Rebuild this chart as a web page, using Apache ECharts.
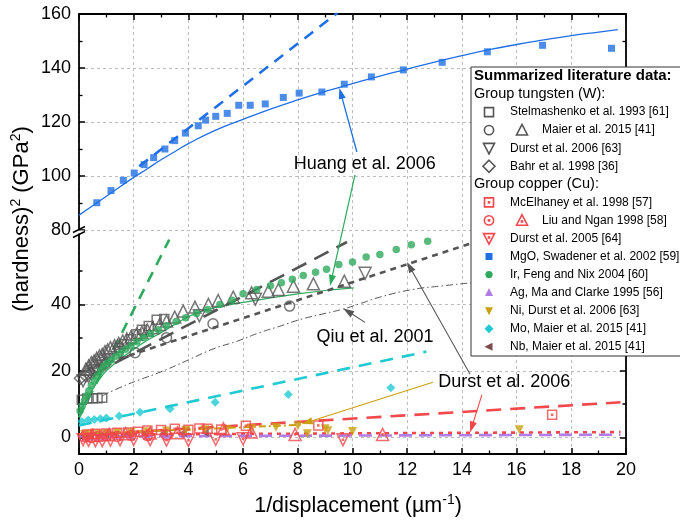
<!DOCTYPE html>
<html>
<head>
<meta charset="utf-8">
<script src="https://cdn.jsdelivr.net/npm/echarts@6/dist/echarts.min.js"></script>
<style>
html,body{margin:0;padding:0;background:#fff}
#chart{width:680px;height:523px}
</style>
</head>
<body>
<div id="chart"></div>
<script>
// ---------- axis ticks ----------
const xTicks = [0, 2, 4, 6, 8, 10, 12, 14, 16, 18, 20];
const yTicksUpper = [80, 100, 120, 140, 160];
const yTicksLower = [0, 20, 40];
const yMinorLower = [10, 30, 50];

// ---------- upper segment: MgO ----------
const mgoSwadener = [[0.65,90.1],[1.17,94.6],[1.62,98.4],[2.02,101.1],[2.38,104.2],[2.73,106.8],[3.14,110],[3.5,113.1],[3.89,115.9],[4.36,118.6],[4.63,120.7],[5.0,122.1],[5.42,123.2],[5.84,126.2],[6.26,126.2],[6.81,126.7],[7.47,129.1],[8.05,130.7],[8.88,131.1],[9.7,134],[10.69,136.7],[11.86,139.3],[13.28,142.1],[14.93,146],[16.95,148.4],[19.47,147.3]];
const mgoHuangFit = [[0,85.5],[0.5,89],[1,92.5],[1.5,96],[2,99.5],[2.5,102.7],[3,106],[3.5,109],[4,112],[5,117],[6,121],[7,124.8],[8,128.2],[9,131.3],[10,134.2],[11,137],[12,139.6],[13,142.2],[14,144.6],[15,146.8],[16,148.7],[17,150.4],[18,152],[19,153.3],[19.7,154.2]];
const mgoNixGao = [[2.2,103.6],[9.45,160.4]];

// ---------- lower segment: tungsten group ----------
const wStelmashenko = [[0.1,11.3],[0.3,11.7],[0.5,11.8],[0.68,11.8],[0.85,11.9],[1.45,27],[1.65,28],[1.9,29.5],[2.1,31],[2.3,32.4],[2.55,33.5],[2.84,35.4],[3.12,35.6]];
const wMaierCircle = [[2.05,25.5],[3.2,30],[4.9,34.2],[7.7,39.5]];
const wMaierTriangle = [[0.25,20.5],[0.35,21.5],[0.45,22.5],[0.55,23],[0.65,23.8],[0.75,24.5],[0.85,25],[0.95,25.8],[1.05,26.3],[1.15,27],[1.3,27.6],[1.45,28.3],[1.6,29],[1.75,29.6],[1.9,30.2],[2.1,31],[2.3,31.6],[2.5,32.3],[2.7,33],[2.95,34],[3.2,35],[3.5,36.2],[3.81,38],[4.24,39.2],[4.73,40],[5.09,41.2],[5.64,42.2],[6.31,43.5],[6.92,44],[7.29,44.5],[7.84,45.5],[8.57,46.2],[9.7,47]];
const wDurst = [[0.15,17],[0.35,18.3],[0.55,19.8],[0.8,21.5],[1.1,23.3],[1.5,25.5],[4.4,36.6],[6.45,41.6],[10.46,49.4]];
const wBahr = [[0.05,17.8],[0.25,18.5],[0.45,19.3],[0.7,20.5],[0.95,22]];
const wFitLong = [[0.5,18.85],[9.8,58.8]];
const wFitShort = [[0.3,20.5],[14.3,58.3]];
const wQiuFit = [[0.85,12.5],[1.5,15],[2.2,17.3],[2.96,19.6],[4,23.3],[4.9,26.6],[5.8,29],[6.6,31.5],[7.4,33.6],[8.1,35.5],[9,37.3],[9.6,38.5],[10.3,40.3],[11,42.2],[12.2,44.5],[13.3,45.6],[14.3,46.5],[16,48],[18,49.5],[20,51]];

// ---------- lower segment: copper group ----------
const cuMcElhaney = [[0.3,0.9],[0.6,1.1],[1.0,1.2],[1.4,1.4],[1.8,1.5],[2.15,1.7],[2.5,2.1],[3.0,2.2],[3.5,2.6],[4.0,2.3],[4.4,2.7],[4.7,2.6],[5.2,2.4],[6.1,3.5],[8.75,3.6],[17.3,6.8]];
const cuLiuCircle = [[0.2,0.2],[0.45,0.0],[0.7,0.3],[1.0,0.5],[1.4,0.3],[1.9,0.6],[2.5,0.5],[3.2,0.7]];
const cuLiuTriangle = [[0.5,0.6],[1.1,0.9],[1.7,1.1],[2.6,1.3],[3.6,1.4],[5.28,2.6],[6.3,1.6],[7.9,0.9],[11.1,0.9]];
const cuDurst = [[0.15,-0.7],[0.35,-0.9],[0.6,-1.0],[0.85,-1.0],[1.15,-0.8],[1.5,-0.7],[2.0,-0.6],[2.6,-0.7],[3.2,-0.8],[4.0,-0.9],[5.0,-0.6],[6.0,-0.4],[9.65,-0.7]];
const cuFitLong = [[0,0.65],[19.8,10.55]];
const cuFitShort = [[0,0.8],[19.8,1.6]];

// ---------- lower segment: other metals ----------
const irFengNix = [[0.04,8],[0.12,9.5],[0.2,11],[0.28,12.5],[0.36,14],[0.45,15.5],[0.55,17],[0.66,18.5],[0.78,20],[0.9,21.3],[1.03,22.3],[1.18,23.3],[1.35,24.4],[1.52,25.4],[1.7,26.5],[1.9,27.6],[2.12,28.8],[2.36,30],[2.62,31.2],[2.9,32.4],[3.2,33.6],[3.55,34.9],[3.9,36],[4.3,37.3],[4.7,38.5],[5.15,40],[5.6,41.3],[6.0,43.2],[6.5,44.5],[7.0,45.6],[7.4,46.5],[7.8,47.6],[8.2,48.7],[8.65,49.7],[9.05,50.6],[9.5,52],[10.0,52.8],[10.5,54.3],[11.0,55],[11.6,56.5],[12.15,58],[12.75,59]];
const irFitSolid = [[0,7],[0.25,11],[0.5,14.5],[0.75,17.5],[1,20],[1.5,23.5],[2,26.5],[2.5,29.2],[3,31.5],[3.5,34],[4,36.3],[4.5,38],[5,39.1],[6,40.6],[7,42],[8,43.2],[9,44.2],[10.05,45]];
const irFitDashed = [[0,6],[3.3,59.5]];
const agMaClarke = [[0.25,0.2],[0.45,0.3],[0.7,0.3],[1.0,0.4],[1.4,0.4],[1.9,0.5],[2.5,0.5],[3.2,0.6]];
const agFit = [[0,0.3],[19.8,0.8]];
const niDurst = [[0.2,0.9],[0.4,1.0],[0.7,1.1],[1.0,1.2],[1.4,1.4],[1.9,1.5],[2.5,1.7],[3.2,1.9],[3.9,2.1],[4.6,2.3],[5.4,2.4],[6.3,2.7],[7.2,3.0],[8.0,3.5],[8.35,1.1],[9.0,2.6],[9.1,2.0],[10.0,1.8],[16.1,2.3]];
const niFit = [[0,1.0],[8.2,3.8]];
const moMaier = [[0.1,4.8],[0.34,5.2],[0.56,5.4],[0.78,5.6],[1.0,5.8],[1.47,6.4],[2.23,7.6],[3.33,8.6],[4.98,10.6],[7.65,12.9],[11.4,14.9]];
const moFit = [[0,3.6],[12.7,25.8]];
const nbMaier = [[0.2,0.6],[0.4,0.7],[0.65,0.8],[0.95,0.9],[1.3,1.0],[1.8,1.1],[2.4,1.2],[3.1,1.3],[3.8,1.4],[4.6,1.4]];

// ---------- styling ----------
const FONT = '"Liberation Sans", Arial, Helvetica, sans-serif';
const GRAY = '#555555', RED = '#f2474b', BLUE = '#1f6fe5', GREEN = '#2eaa5c',
      CYAN = '#1fcad3', PURPLE = '#b27ce6', GOLD = '#c9a010', BROWN = '#7d4b4b';
const GRID_LINE = { show: true, lineStyle: { color: '#bdbdbd', type: [3, 3], width: 1 } };
const AXIS_LINE = { show: true, onZero: false, lineStyle: { color: '#000', width: 1.8 } };

function xAx(gridIndex, position, showLabels) {
  return {
    type: 'value', gridIndex, position, min: 0, max: 20, interval: 2,
    axisLine: AXIS_LINE,
    axisTick: { show: true, inside: true, length: 6, lineStyle: { color: '#000', width: 1.5 } },
    minorTick: { show: true, splitNumber: 2, length: 3.5, lineStyle: { color: '#000', width: 1.3 } },
    axisLabel: { show: showLabels, fontFamily: FONT, fontSize: 18, color: '#000', margin: 7 },
    splitLine: GRID_LINE, minorSplitLine: { show: false }
  };
}
function yUpper(position, showLabels) {
  return {
    type: 'value', gridIndex: 0, position, min: 80, max: 160, interval: 20,
    axisLine: AXIS_LINE,
    axisTick: { show: true, inside: true, length: 6, lineStyle: { color: '#000', width: 1.5 } },
    minorTick: { show: true, splitNumber: 2, length: 3.5, lineStyle: { color: '#000', width: 1.3 } },
    axisLabel: { show: showLabels, fontFamily: FONT, fontSize: 18, color: '#000', margin: 8 },
    splitLine: showLabels ? GRID_LINE : { show: false }
  };
}
function yLower(position, showLabels, ticks, tickLen, withLine, withSplit) {
  return {
    type: 'value', gridIndex: 1, position, min: -5, max: 61.2,
    axisLine: withLine ? AXIS_LINE : { show: false, onZero: false },
    axisTick: { show: true, inside: true, length: tickLen, customValues: ticks, lineStyle: { color: '#000', width: 1.5 } },
    axisLabel: { show: showLabels, customValues: ticks, fontFamily: FONT, fontSize: 18, color: '#000', margin: 8 },
    splitLine: withSplit ? GRID_LINE : { show: false }
  };
}

function pts(name, data, symbol, size, color, opts = {}) {
  const hollow = opts.hollow;
  return {
    name, type: 'scatter', xAxisIndex: opts.grid === 0 ? 0 : 1, yAxisIndex: opts.grid === 0 ? 0 : 2,
    data, symbol, symbolSize: size, symbolRotate: opts.rotate || 0,
    itemStyle: hollow ? { color: 'rgba(0,0,0,0)', borderColor: color, borderWidth: opts.bw || 1.5 }
                      : { color, borderWidth: 0 },
    z: opts.z || 3, silent: true
  };
}
function line(name, data, color, width, dash, opts = {}) {
  return {
    name, type: 'line', xAxisIndex: opts.grid === 0 ? 0 : 1, yAxisIndex: opts.grid === 0 ? 0 : 2,
    data, showSymbol: false, symbol: 'none', smooth: opts.smooth || false,
    lineStyle: { color, width, type: dash || 'solid', cap: 'butt' }, z: opts.z || 2, silent: true
  };
}
// small centre dot of the copper-group markers
function dot(name, data, color) {
  return pts(name + ' dot', data, 'rect', 2.6, color, { z: 4 });
}

const series = [
  // MgO (upper segment)
  line('MgO fit', mgoHuangFit, BLUE, 1.3, 'solid', { grid: 0, smooth: true }),
  line('MgO Nix-Gao', mgoNixGao, BLUE, 2.6, [11, 8], { grid: 0 }),
  pts('MgO, Swadener et al. 2002 [59]', mgoSwadener, 'rect', 7, BLUE, { grid: 0 }),

  // lower segment fits
  line('Ir Nix-Gao', irFitDashed, GREEN, 2.6, [11, 8]),
  line('Ir fit', irFitSolid, GREEN, 1.2, 'solid', { smooth: true }),
  line('W fit long', wFitLong, GRAY, 2.6, [16, 9]),
  line('W fit short', wFitShort, GRAY, 2.6, [6, 5]),
  line('Qiu fit', wQiuFit, GRAY, 1.0, [7, 3, 1.5, 3], { smooth: true }),
  line('Mo fit', moFit, CYAN, 2.6, [13, 9]),
  line('Cu fit long', cuFitLong, RED, 2.6, [15, 9]),
  line('Cu fit short', cuFitShort, RED, 2.6, [4, 5]),
  line('Ag fit', agFit, PURPLE, 2.6, [13, 7]),
  line('Ni fit', niFit, GOLD, 2.0, [7, 3, 2, 3]),

  // tungsten group
  pts('Stelmashenko et al. 1993 [61]', wStelmashenko, 'rect', 9, GRAY, { hollow: true }),
  pts('Maier et al. 2015 [41] circle', wMaierCircle, 'circle', 10, GRAY, { hollow: true }),
  pts('Maier et al. 2015 [41] triangle', wMaierTriangle, 'triangle', 12, GRAY, { hollow: true }),
  pts('Durst et al. 2006 [63]', wDurst, 'triangle', 12, GRAY, { hollow: true, rotate: 180 }),
  pts('Bahr et al. 1998 [36]', wBahr, 'diamond', 12, GRAY, { hollow: true }),

  // other metals
  pts('Ir, Feng and Nix 2004 [60]', irFengNix, 'circle', 7.5, GREEN),
  pts('Mo, Maier et al. 2015 [41]', moMaier, 'diamond', 9, CYAN),
  pts('Ag, Ma and Clarke 1995 [56]', agMaClarke, 'triangle', 8, PURPLE),
  pts('Nb, Maier et al. 2015 [41]', nbMaier, 'triangle', 8, BROWN, { rotate: 90 }),
  pts('Ni, Durst et al. 2006 [63]', niDurst, 'triangle', 9, GOLD, { rotate: 180 }),

  // copper group
  pts('McElhaney et al. 1998 [57]', cuMcElhaney, 'rect', 9, RED, { hollow: true }),
  dot('McElhaney et al. 1998 [57]', cuMcElhaney, RED),
  pts('Liu and Ngan 1998 [58] circle', cuLiuCircle, 'circle', 10, RED, { hollow: true }),
  dot('Liu and Ngan 1998 [58] circle', cuLiuCircle, RED),
  pts('Liu and Ngan 1998 [58] triangle', cuLiuTriangle, 'triangle', 12, RED, { hollow: true }),
  dot('Liu and Ngan 1998 [58] triangle', cuLiuTriangle, RED),
  pts('Durst et al. 2005 [64]', cuDurst, 'triangle', 12, RED, { hollow: true, rotate: 180 }),
  dot('Durst et al. 2005 [64]', cuDurst, RED)
];

const option = {
  animation: false,
  backgroundColor: '#fff',
  textStyle: { fontFamily: FONT },
  grid: [
    { left: 79, right: 54, top: 14, height: 216 },
    { left: 79, right: 54, top: 234, height: 220 }
  ],
  xAxis: [xAx(0, 'top', false), xAx(1, 'bottom', true)],
  yAxis: [
    yUpper('left', true),
    yUpper('right', false),
    yLower('left', true, yTicksLower, 6, true, true),
    yLower('left', false, yMinorLower, 3.5, false, false),
    yLower('right', false, yTicksLower, 6, true, false),
    yLower('right', false, yMinorLower, 3.5, false, false)
  ],
  series
};

const chart = echarts.init(document.getElementById('chart'), null, { renderer: 'canvas' });
chart.setOption(option);

// ---------- annotations, axis titles, axis break, legend ----------
const upIdx = series.findIndex(s => s.name === 'MgO fit');
const loIdx = series.findIndex(s => s.name === 'Ir fit');
const U = p => chart.convertToPixel({ seriesIndex: upIdx }, p);
const L = p => chart.convertToPixel({ seriesIndex: loIdx }, p);

function arrow(from, to, color, width) {
  const dx = to[0] - from[0], dy = to[1] - from[1];
  const len = Math.hypot(dx, dy), ux = dx / len, uy = dy / len;
  const hl = 11, hw = 3.6;
  const b = [to[0] - ux * hl, to[1] - uy * hl];
  return [
    { type: 'line', z: 50, shape: { x1: from[0], y1: from[1], x2: b[0] + ux * 2, y2: b[1] + uy * 2 },
      style: { stroke: color, lineWidth: width } },
    { type: 'polygon', z: 50, shape: { points: [to, [b[0] - uy * hw, b[1] + ux * hw], [b[0] + uy * hw, b[1] - ux * hw]] },
      style: { fill: color } }
  ];
}
function label(text, pos, size) {
  return { type: 'text', z: 50, x: pos[0], y: pos[1],
    style: { text, fontFamily: FONT, fontSize: size || 18, fill: '#000', align: 'center', verticalAlign: 'middle' } };
}

const g = [];
// Huang et al. 2006
g.push(label('Huang et al. 2006', U([10.45, 104.6])));
g.push(...arrow(U([10.16, 108.9]), U([9.52, 132.6]), BLUE, 1.3));
g.push(...arrow(U([10.09, 100.4]), L([9.18, 45.6]), GREEN, 1.2));
// Qiu et al. 2001
g.push(label('Qiu et al. 2001', L([10.82, 30.2])));
g.push(...arrow(L([10.46, 34.6]), L([9.66, 38.8]), GRAY, 1.1));
// Durst et al. 2006
g.push(label('Durst et al. 2006', L([15.55, 16.6])));
g.push(...arrow(L([14.3, 19.0]), L([11.99, 52.8]), GRAY, 1.1));
g.push(...arrow(L([12.94, 16.6]), L([8.15, 4.0]), GOLD, 1.1));
g.push(...arrow(L([14.73, 12.8]), L([14.3, 1.5]), RED, 1.1));

// axis break on the left axis
g.push({ type: 'rect', z: 60, shape: { x: 74, y: 230.5, width: 10, height: 3 }, style: { fill: '#fff' } });
g.push({ type: 'line', z: 61, shape: { x1: 73, y1: 232.5, x2: 85, y2: 226.5 }, style: { stroke: '#000', lineWidth: 1.5 } });
g.push({ type: 'line', z: 61, shape: { x1: 73, y1: 237.5, x2: 85, y2: 231.5 }, style: { stroke: '#000', lineWidth: 1.5 } });

// axis titles
g.push({ type: 'text', z: 50, x: 22, y: 219, rotation: Math.PI / 2,
  style: { text: '(hardness){s|2} (GPa{s|2})', fontFamily: FONT, fontSize: 22, lineHeight: 26, fill: '#000',
    align: 'center', verticalAlign: 'middle',
    rich: { s: { fontFamily: FONT, fontSize: 14, lineHeight: 26, verticalAlign: 'top', fill: '#000' } } } });
g.push({ type: 'text', z: 50, x: 358, y: 506,
  style: { text: '1/displacement (µm{s|-1})', fontFamily: FONT, fontSize: 21.5, lineHeight: 26, fill: '#000',
    align: 'center', verticalAlign: 'middle',
    rich: { s: { fontFamily: FONT, fontSize: 14, lineHeight: 26, verticalAlign: 'top', fill: '#000' } } } });

// legend
const LX = 471, LY = 67;
g.push({ type: 'rect', z: 70, shape: { x: LX, y: LY, width: 220, height: 289 },
  style: { fill: '#fff', stroke: '#333', lineWidth: 1 } });
const rowY = k => 76 + k * 18.05;
const symX = 489, symX2 = 522;
function legText(text, x, k, opts = {}) {
  g.push({ type: 'text', z: 72, x, y: rowY(k),
    style: { text, fontFamily: FONT, fontSize: opts.size || 12, fontWeight: opts.bold ? 'bold' : 'normal',
      fill: '#000', align: 'left', verticalAlign: 'middle' } });
}
function sq(cx, cy, s, color, hollow) {
  g.push({ type: 'rect', z: 72, shape: { x: cx - s / 2, y: cy - s / 2, width: s, height: s },
    style: hollow ? { fill: 'none', stroke: color, lineWidth: 1.6 } : { fill: color } });
}
function circ(cx, cy, r, color, hollow) {
  g.push({ type: 'circle', z: 72, shape: { cx, cy, r },
    style: hollow ? { fill: 'none', stroke: color, lineWidth: 1.6 } : { fill: color } });
}
function tri(cx, cy, s, color, hollow, dir) {
  const h = s * 0.87, pts = {
    up: [[cx, cy - h / 2 - 1], [cx - s / 2, cy + h / 2], [cx + s / 2, cy + h / 2]],
    down: [[cx, cy + h / 2 + 1], [cx - s / 2, cy - h / 2], [cx + s / 2, cy - h / 2]],
    left: [[cx - h / 2 - 1, cy], [cx + h / 2, cy - s / 2], [cx + h / 2, cy + s / 2]]
  }[dir];
  g.push({ type: 'polygon', z: 72, shape: { points: pts },
    style: hollow ? { fill: 'none', stroke: color, lineWidth: 1.6, lineJoin: 'miter' } : { fill: color } });
}
function dia(cx, cy, s, color, hollow) {
  g.push({ type: 'polygon', z: 72, shape: { points: [[cx, cy - s / 2], [cx + s / 2, cy], [cx, cy + s / 2], [cx - s / 2, cy]] },
    style: hollow ? { fill: 'none', stroke: color, lineWidth: 1.6 } : { fill: color } });
}
function cdot(cx, cy, color) { sq(cx, cy, 2.6, color, false); }

legText('Summarized literature data:', 474, 0, { bold: true, size: 15 });
legText('Group tungsten (W):', 474, 1, { size: 14.5 });
sq(symX, rowY(2), 9, GRAY, true);            legText('Stelmashenko et al. 1993 [61]', 510, 2);
circ(symX, rowY(3), 4.6, GRAY, true); tri(symX2, rowY(3), 11, GRAY, true, 'up'); legText('Maier et al. 2015 [41]', 542, 3);
tri(symX, rowY(4), 11, GRAY, true, 'down');  legText('Durst et al. 2006 [63]', 510, 4);
dia(symX, rowY(5), 12, GRAY, true);          legText('Bahr et al. 1998 [36]', 510, 5);
legText('Group copper (Cu):', 474, 6, { size: 14.5 });
sq(symX, rowY(7), 9, RED, true); cdot(symX, rowY(7), RED); legText('McElhaney et al. 1998 [57]', 510, 7);
circ(symX, rowY(8), 4.6, RED, true); cdot(symX, rowY(8), RED);
tri(symX2, rowY(8), 11, RED, true, 'up'); cdot(symX2, rowY(8) + 1, RED); legText('Liu and Ngan 1998 [58]', 542, 8);
tri(symX, rowY(9), 11, RED, true, 'down'); cdot(symX, rowY(9) - 1, RED); legText('Durst et al. 2005 [64]', 510, 9);
sq(symX, rowY(10), 7, BLUE, false);          legText('MgO, Swadener et al. 2002 [59]', 510, 10);
circ(symX, rowY(11), 3.6, GREEN, false);     legText('Ir, Feng and Nix 2004 [60]', 510, 11);
tri(symX, rowY(12), 8, PURPLE, false, 'up'); legText('Ag, Ma and Clarke 1995 [56]', 510, 12);
tri(symX, rowY(13), 8, GOLD, false, 'down'); legText('Ni, Durst et al. 2006 [63]', 510, 13);
dia(symX, rowY(14), 9, CYAN, false);         legText('Mo, Maier et al. 2015 [41]', 510, 14);
tri(symX, rowY(15), 8, BROWN, false, 'left'); legText('Nb, Maier et al. 2015 [41]', 510, 15);

chart.setOption({ graphic: { elements: g } });
</script>
</body>
</html>
